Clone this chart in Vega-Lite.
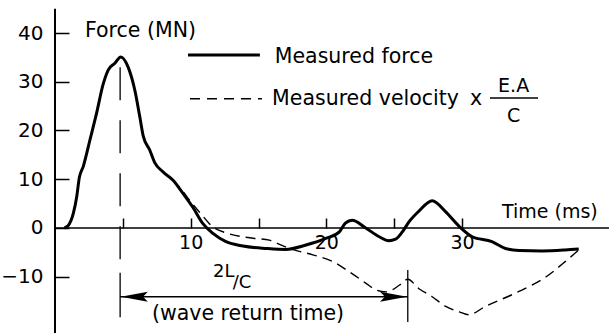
{
  "$schema": "https://vega.github.io/schema/vega-lite/v6.json",
  "width": 554,
  "height": 333,
  "autosize": "none",
  "padding": {"left": 55, "right": 0, "top": 0, "bottom": 0},
  "background": "white",
  "config": {"view": {"stroke": null}, "font": "DejaVu Sans"},
  "datasets": {
    "force": [
      {"t": 0.7, "F": 0}, {"t": 1.0, "F": 0.6}, {"t": 1.35, "F": 3.0}, {"t": 1.6, "F": 6.4},
      {"t": 1.79, "F": 10.3}, {"t": 2.08, "F": 12.6}, {"t": 2.57, "F": 18.0}, {"t": 3.06, "F": 23.5},
      {"t": 3.55, "F": 29.5}, {"t": 3.92, "F": 32.4}, {"t": 4.41, "F": 33.8}, {"t": 4.85, "F": 35.1},
      {"t": 5.39, "F": 33.0}, {"t": 5.88, "F": 28.3}, {"t": 6.25, "F": 22.8}, {"t": 6.5, "F": 18.9},
      {"t": 6.98, "F": 16.0}, {"t": 7.35, "F": 13.4}, {"t": 7.96, "F": 11.5}, {"t": 8.7, "F": 9.8},
      {"t": 9.43, "F": 7.1}, {"t": 10.17, "F": 4.2}, {"t": 10.9, "F": 0.9}, {"t": 11.64, "F": -1.1},
      {"t": 12.6, "F": -2.8}, {"t": 13.85, "F": -3.7}, {"t": 15.6, "F": -4.2}, {"t": 17.0, "F": -4.4},
      {"t": 18.5, "F": -3.5}, {"t": 20.0, "F": -2.1}, {"t": 20.96, "F": -0.8}, {"t": 21.4, "F": 1.0},
      {"t": 21.9, "F": 1.6}, {"t": 22.9, "F": 0}, {"t": 23.9, "F": -1.8}, {"t": 24.6, "F": -2.6},
      {"t": 25.1, "F": -2.3}, {"t": 25.6, "F": -0.8}, {"t": 26.1, "F": 1.3}, {"t": 26.8, "F": 3.4},
      {"t": 27.8, "F": 5.6}, {"t": 28.8, "F": 3.3}, {"t": 29.8, "F": 0.3}, {"t": 30.75, "F": -1.8},
      {"t": 32.2, "F": -2.8}, {"t": 33.2, "F": -4.2}, {"t": 34.2, "F": -4.6}, {"t": 35.9, "F": -4.7},
      {"t": 37.6, "F": -4.5}, {"t": 38.6, "F": -4.3}
    ],
    "velocity": [
      {"t": 8.7, "F": 9.8}, {"t": 9.4, "F": 7.6}, {"t": 10.0, "F": 5.4}, {"t": 10.7, "F": 3.1},
      {"t": 11.6, "F": 0.3}, {"t": 12.6, "F": -1.0}, {"t": 13.6, "F": -1.7}, {"t": 14.6, "F": -2.1},
      {"t": 15.8, "F": -2.5}, {"t": 16.5, "F": -3.3}, {"t": 17.5, "F": -4.4}, {"t": 19.0, "F": -5.5},
      {"t": 20.5, "F": -6.9}, {"t": 21.7, "F": -9.0}, {"t": 22.9, "F": -11.3}, {"t": 23.65, "F": -12.7},
      {"t": 24.4, "F": -13.1}, {"t": 25.4, "F": -11.7}, {"t": 26.0, "F": -10.5}, {"t": 26.8, "F": -12.4},
      {"t": 27.8, "F": -14.1}, {"t": 28.8, "F": -16.1}, {"t": 29.8, "F": -17.2}, {"t": 30.5, "F": -17.8},
      {"t": 31.7, "F": -16.1}, {"t": 33.9, "F": -13.4}, {"t": 36.2, "F": -10.0}, {"t": 37.6, "F": -6.9},
      {"t": 38.6, "F": -4.5}
    ]
  },
  "encoding": {
    "x": {
      "field": "t", "type": "quantitative",
      "scale": {"domain": [0, 40.83], "nice": false, "zero": false},
      "axis": {
        "orient": "bottom", "offset": -115, "title": null, "grid": false, "domain": false,
        "values": [5, 10, 15, 20, 25, 30],
        "labelExpr": "datum.value % 10 === 0 ? datum.label : ''",
        "tickSize": 10, "labelPadding": 5, "tickColor": "black", "tickWidth": 1.5,
        "labelColor": "black", "labelFontSize": 19, "labelFont": "DejaVu Sans"
      }
    },
    "y": {
      "field": "F", "type": "quantitative",
      "scale": {"domain": [-21.54, 46.77], "nice": false, "zero": false},
      "axis": {
        "orient": "left", "offset": -14, "title": null, "grid": false, "domain": false,
        "values": [-10, 0, 10, 20, 30, 40],
        "tickSize": 14, "labelPadding": 12, "tickColor": "black", "tickWidth": 1.5,
        "labelColor": "black", "labelFontSize": 20, "labelFont": "DejaVu Sans"
      }
    }
  },
  "layer": [
    {
      "data": {"values": [{"t": 0, "F": 45, "F2": -21.54}]},
      "mark": {"type": "rule", "color": "black", "strokeWidth": 2},
      "encoding": {"y2": {"field": "F2"}}
    },
    {
      "data": {"values": [{"t": 0, "t2": 40.83, "F": 0}]},
      "mark": {"type": "rule", "color": "black", "strokeWidth": 1.5},
      "encoding": {"x2": {"field": "t2"}}
    },
    {
      "data": {"values": [{"t": 4.8, "F": 33.0, "F2": -7.0}]},
      "mark": {"type": "rule", "color": "black", "strokeWidth": 1.3, "strokeDash": [33, 20]},
      "encoding": {"y2": {"field": "F2"}}
    },
    {
      "data": {"values": [{"t": 4.8, "F": -9.2, "F2": -18.3}, {"t": 26.0, "F": -8.6, "F2": -19.3}]},
      "mark": {"type": "rule", "color": "black", "strokeWidth": 1.3},
      "encoding": {"y2": {"field": "F2"}}
    },
    {
      "data": {"values": [{"t": 4.8, "t2": 26.0, "F": -14.1}]},
      "mark": {"type": "rule", "color": "black", "strokeWidth": 1.5},
      "encoding": {"x2": {"field": "t2"}}
    },
    {
      "data": {"values": [{"t": 4.85, "F": -14.1, "dir": "left"}, {"t": 25.95, "F": -14.1, "dir": "right"}]},
      "mark": {"type": "point", "filled": true, "color": "black", "opacity": 1, "size": 729, "strokeWidth": 0},
      "encoding": {
        "shape": {
          "field": "dir", "type": "nominal", "legend": null,
          "scale": {"domain": ["left", "right"], "range": ["M 0 0 L 2 -0.37 L 1.65 0 L 2 0.37 Z", "M 0 0 L -2 -0.37 L -1.65 0 L -2 0.37 Z"]}
        }
      }
    },
    {
      "data": {"name": "velocity"},
      "mark": {"type": "line", "color": "black", "strokeWidth": 1.4, "strokeDash": [10, 6], "interpolate": "monotone"}
    },
    {
      "data": {"name": "force"},
      "mark": {"type": "line", "color": "black", "strokeWidth": 3, "interpolate": "monotone"}
    },
    {
      "data": {"values": [{"t": 9.8, "t2": 15.1, "F": 35.5}]},
      "mark": {"type": "rule", "color": "black", "strokeWidth": 3},
      "encoding": {"x2": {"field": "t2"}}
    },
    {
      "data": {"values": [{"t": 9.95, "t2": 15.25, "F": 26.5}]},
      "mark": {"type": "rule", "color": "black", "strokeWidth": 1.4, "strokeDash": [10, 7]},
      "encoding": {"x2": {"field": "t2"}}
    },
    {
      "data": {"values": [{"t": 32.06, "t2": 35.6, "F": 26.67}]},
      "mark": {"type": "rule", "color": "black", "strokeWidth": 1.5},
      "encoding": {"x2": {"field": "t2"}}
    },
    {
      "data": {"values": [
        {"t": 2.21, "F": 39.18, "label": "Force (MN)"},
        {"t": 16.2, "F": 33.85, "label": "Measured force"},
        {"t": 16.0, "F": 25.2, "label": "Measured velocity"},
        {"t": 30.58, "F": 25.2, "label": "x"},
        {"t": 7.15, "F": -18.87, "label": "(wave return time)"}
      ]},
      "mark": {"type": "text", "align": "left", "baseline": "alphabetic", "fontSize": 20.5, "color": "black", "font": "DejaVu Sans"},
      "encoding": {"text": {"field": "label"}}
    },
    {
      "data": {"values": [{"t": 40.0, "F": 2.05, "label": "Time (ms)"}]},
      "mark": {"type": "text", "align": "right", "baseline": "alphabetic", "fontSize": 19, "color": "black", "font": "DejaVu Sans"},
      "encoding": {"text": {"field": "label"}}
    },
    {
      "data": {"values": [{"t": 33.8, "F": 27.9, "label": "E.A"}, {"t": 33.8, "F": 21.74, "label": "C"}]},
      "mark": {"type": "text", "align": "center", "baseline": "alphabetic", "fontSize": 19, "color": "black", "font": "DejaVu Sans"},
      "encoding": {"text": {"field": "label"}}
    },
    {
      "data": {"values": [{"t": 11.64, "F": -10.05, "label": "2L"}, {"t": 13.1, "F": -12.3, "label": "/C"}]},
      "mark": {"type": "text", "align": "left", "baseline": "alphabetic", "fontSize": 18, "color": "black", "font": "DejaVu Sans"},
      "encoding": {"text": {"field": "label"}}
    }
  ]
}
